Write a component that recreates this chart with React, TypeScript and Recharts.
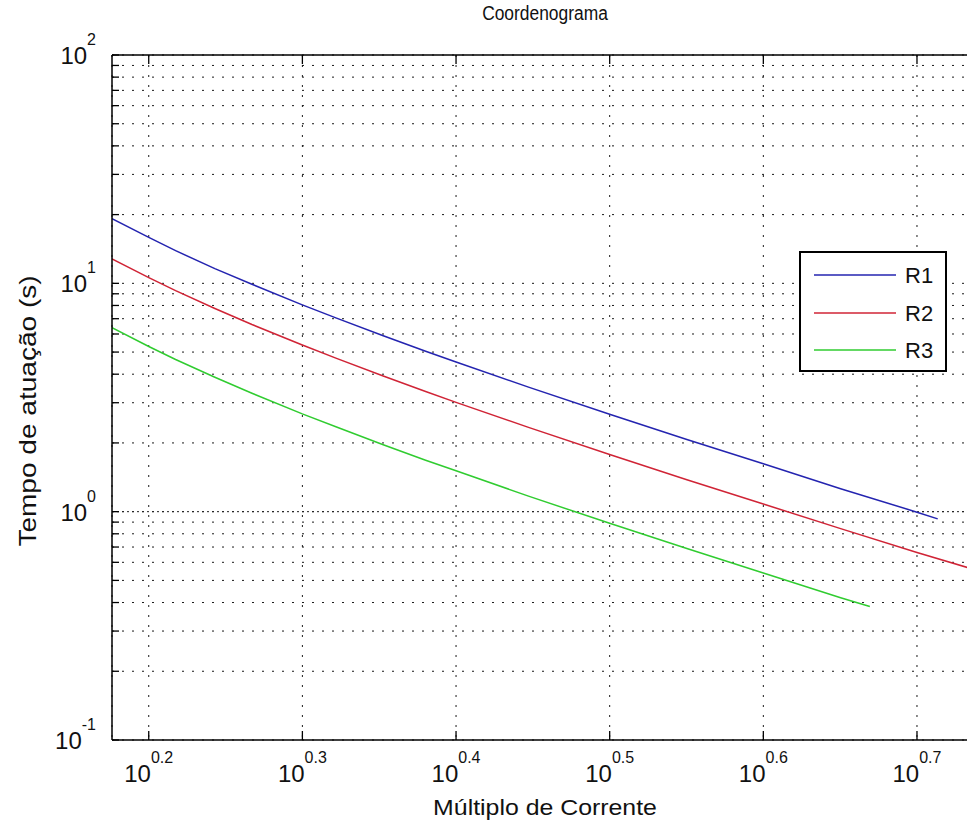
import React from "react";
import { LineChart, Line, XAxis, YAxis, CartesianGrid, Legend, ReferenceLine } from "recharts";

const FONT = '"Liberation Sans", Arial, Helvetica, sans-serif';
const PLOT_H = 685;

// Current multiple (x) vs. operating time in seconds (y)
const r1Multiple = [1.5, 1.585, 1.65, 1.75, 1.85, 1.995, 2.1, 2.25, 2.4, 2.512, 2.8, 3.162, 3.55, 3.981, 4.47, 5.012, 5.17];
const r1Time = [19.2, 15.9, 13.9, 11.6, 9.91, 8.05, 7.04, 5.91, 5.04, 4.52, 3.51, 2.67, 2.07, 1.62, 1.26, 0.995, 0.93];

const r2Multiple = [1.5, 1.585, 1.65, 1.75, 1.85, 1.995, 2.1, 2.25, 2.4, 2.512, 2.8, 3.162, 3.55, 3.981, 4.47, 5.012, 5.5];
const r2Time = [12.8, 10.6, 9.29, 7.76, 6.6, 5.37, 4.69, 3.94, 3.36, 3.01, 2.34, 1.78, 1.38, 1.08, 0.843, 0.663, 0.55];

const r3Multiple = [1.5, 1.585, 1.65, 1.75, 1.85, 1.995, 2.1, 2.25, 2.4, 2.512, 2.8, 3.162, 3.55, 3.981, 4.47, 4.67];
const r3Time = [6.4, 5.29, 4.64, 3.88, 3.3, 2.68, 2.35, 1.97, 1.68, 1.51, 1.17, 0.889, 0.69, 0.539, 0.42, 0.384];

const seriesNames = ["R1", "R2", "R3"];
const seriesColors = ["#2424b0", "#d02436", "#30cc30"];

const xTickExponents = ["0.2", "0.3", "0.4", "0.5", "0.6", "0.7"];
const yTickExponents = ["-1", "0", "1", "2"];
const yMinorMantissas = [1, 2, 3, 4, 5, 6, 7, 8, 9];

const xDomain = [1.5, 5.5];
const yDomain = [0.1, 100];

const toRows = (xs: number[], ys: number[]) => xs.map((m, i) => ({ m, t: ys[i] }));
const r1Data = toRows(r1Multiple, r1Time);
const r2Data = toRows(r2Multiple, r2Time);
const r3Data = toRows(r3Multiple, r3Time);

const xTicks = xTickExponents.map((e) => Math.pow(10, parseFloat(e)));
const yTicks: number[] = [];
yTickExponents.forEach((e, i) => {
  const base = Math.pow(10, parseFloat(e));
  if (i === yTickExponents.length - 1) {
    yTicks.push(base);
  } else {
    yMinorMantissas.forEach((mm) => yTicks.push(mm * base));
  }
});

const isPow10 = (v: number) => {
  const l = Math.log10(v);
  return Math.abs(l - Math.round(l)) < 1e-9;
};

const XTick = (props: any) => {
  const { x, y, payload } = props;
  const v = payload.value;
  const exp = xTickExponents.find((e) => Math.abs(Math.pow(10, parseFloat(e)) - v) < 1e-6) || "";
  return (
    <g>
      <line x1={x} x2={x} y1={y} y2={y - 9} stroke="#000" strokeWidth={1.3} />
      <line x1={x} x2={x} y1={y - PLOT_H} y2={y - PLOT_H + 9} stroke="#000" strokeWidth={1.3} />
      <text x={x} y={y + 42} textAnchor="middle" fill="#111" fontFamily={FONT}>
        <tspan fontSize={24}>10</tspan>
        <tspan fontSize={16} dy={-19}>{exp}</tspan>
      </text>
    </g>
  );
};

const YTick = (props: any) => {
  const { x, y, payload } = props;
  const v = payload.value;
  const major = isPow10(v);
  const exp = String(Math.round(Math.log10(v)));
  return (
    <g>
      <line x1={x} x2={x + 7} y1={y} y2={y} stroke="#000" strokeWidth={1.3} />
      {major && (
        <text x={x - 16} y={y + 9} textAnchor="end" fill="#111" fontFamily={FONT}>
          <tspan fontSize={24}>10</tspan>
          <tspan fontSize={16} dy={-19}>{exp}</tspan>
        </text>
      )}
    </g>
  );
};

const XLabel = () => (
  <text
    transform="translate(545,815) scale(1.13,1)"
    textAnchor="middle"
    fontSize={22}
    fill="#111"
    fontFamily={FONT}
  >
    Múltiplo de Corrente
  </text>
);

const YLabel = () => (
  <text
    transform="translate(36,411) rotate(-90) scale(1.22,1)"
    textAnchor="middle"
    fontSize={23}
    fill="#111"
    fontFamily={FONT}
  >
    Tempo de atuação (s)
  </text>
);

const LegendBox = (props: any) => {
  const payload = props.payload || [];
  const rowsY = [22, 60, 97];
  return (
    <div
      style={{
        width: 148,
        height: 121,
        boxSizing: "border-box",
        border: "2px solid #000",
        background: "#fff",
      }}
    >
      <svg width={144} height={117} style={{ display: "block" }}>
        {payload.map((p: any, i: number) => (
          <g key={p.value}>
            <line x1={13} x2={95} y1={rowsY[i]} y2={rowsY[i]} stroke={p.color} strokeWidth={1.5} />
            <text x={104} y={rowsY[i] + 8} fontSize={22} fill="#111" fontFamily={FONT}>
              {p.value}
            </text>
          </g>
        ))}
      </svg>
    </div>
  );
};

export default function App() {
  return (
    <div
      style={{
        position: "absolute",
        left: 0,
        top: 0,
        width: 967,
        height: 821,
        overflow: "hidden",
        background: "#fff",
      }}
    >
      <div
        style={{
          position: "absolute",
          left: 395,
          top: 2,
          width: 300,
          textAlign: "center",
          fontFamily: FONT,
          fontSize: 20,
          lineHeight: "22px",
          color: "#111",
          zIndex: 2,
          transform: "scaleX(0.87)",
          transformOrigin: "150px 0px",
        }}
      >
        Coordenograma
      </div>
      <LineChart width={1000} height={821} margin={{ top: 55, right: 21, bottom: 0, left: 12 }}>
        <CartesianGrid stroke="#1a1a1a" strokeDasharray="2 8" strokeWidth={1} />
        <XAxis
          dataKey="m"
          type="number"
          scale="log"
          domain={xDomain}
          allowDataOverflow
          ticks={xTicks}
          interval={0}
          tick={<XTick />}
          tickLine={false}
          tickSize={0}
          tickMargin={0}
          height={81}
          axisLine={{ stroke: "#000", strokeWidth: 1.5 }}
          label={{ content: <XLabel /> }}
        />
        <YAxis
          type="number"
          scale="log"
          domain={yDomain}
          allowDataOverflow
          ticks={yTicks}
          interval={0}
          tick={<YTick />}
          tickLine={false}
          tickSize={0}
          tickMargin={0}
          width={100}
          axisLine={{ stroke: "#000", strokeWidth: 1.5 }}
          label={{ content: <YLabel /> }}
        />
        <ReferenceLine y={1} stroke="#222" strokeDasharray="2 3" />
        <ReferenceLine y={100} stroke="#000" strokeWidth={1.5} />
        <ReferenceLine x={5.5} stroke="#000" strokeWidth={1.5} />
        <Legend
          layout="vertical"
          align="center"
          verticalAlign="middle"
          content={<LegendBox />}
          wrapperStyle={{ left: 799, top: 251, width: 148, height: 121 }}
        />
        <Line
          data={r1Data}
          dataKey="t"
          name={seriesNames[0]}
          stroke={seriesColors[0]}
          strokeWidth={1.5}
          dot={false}
          type="linear"
          isAnimationActive={false}
        />
        <Line
          data={r2Data}
          dataKey="t"
          name={seriesNames[1]}
          stroke={seriesColors[1]}
          strokeWidth={1.5}
          dot={false}
          type="linear"
          isAnimationActive={false}
        />
        <Line
          data={r3Data}
          dataKey="t"
          name={seriesNames[2]}
          stroke={seriesColors[2]}
          strokeWidth={1.5}
          dot={false}
          type="linear"
          isAnimationActive={false}
        />
      </LineChart>
    </div>
  );
}
